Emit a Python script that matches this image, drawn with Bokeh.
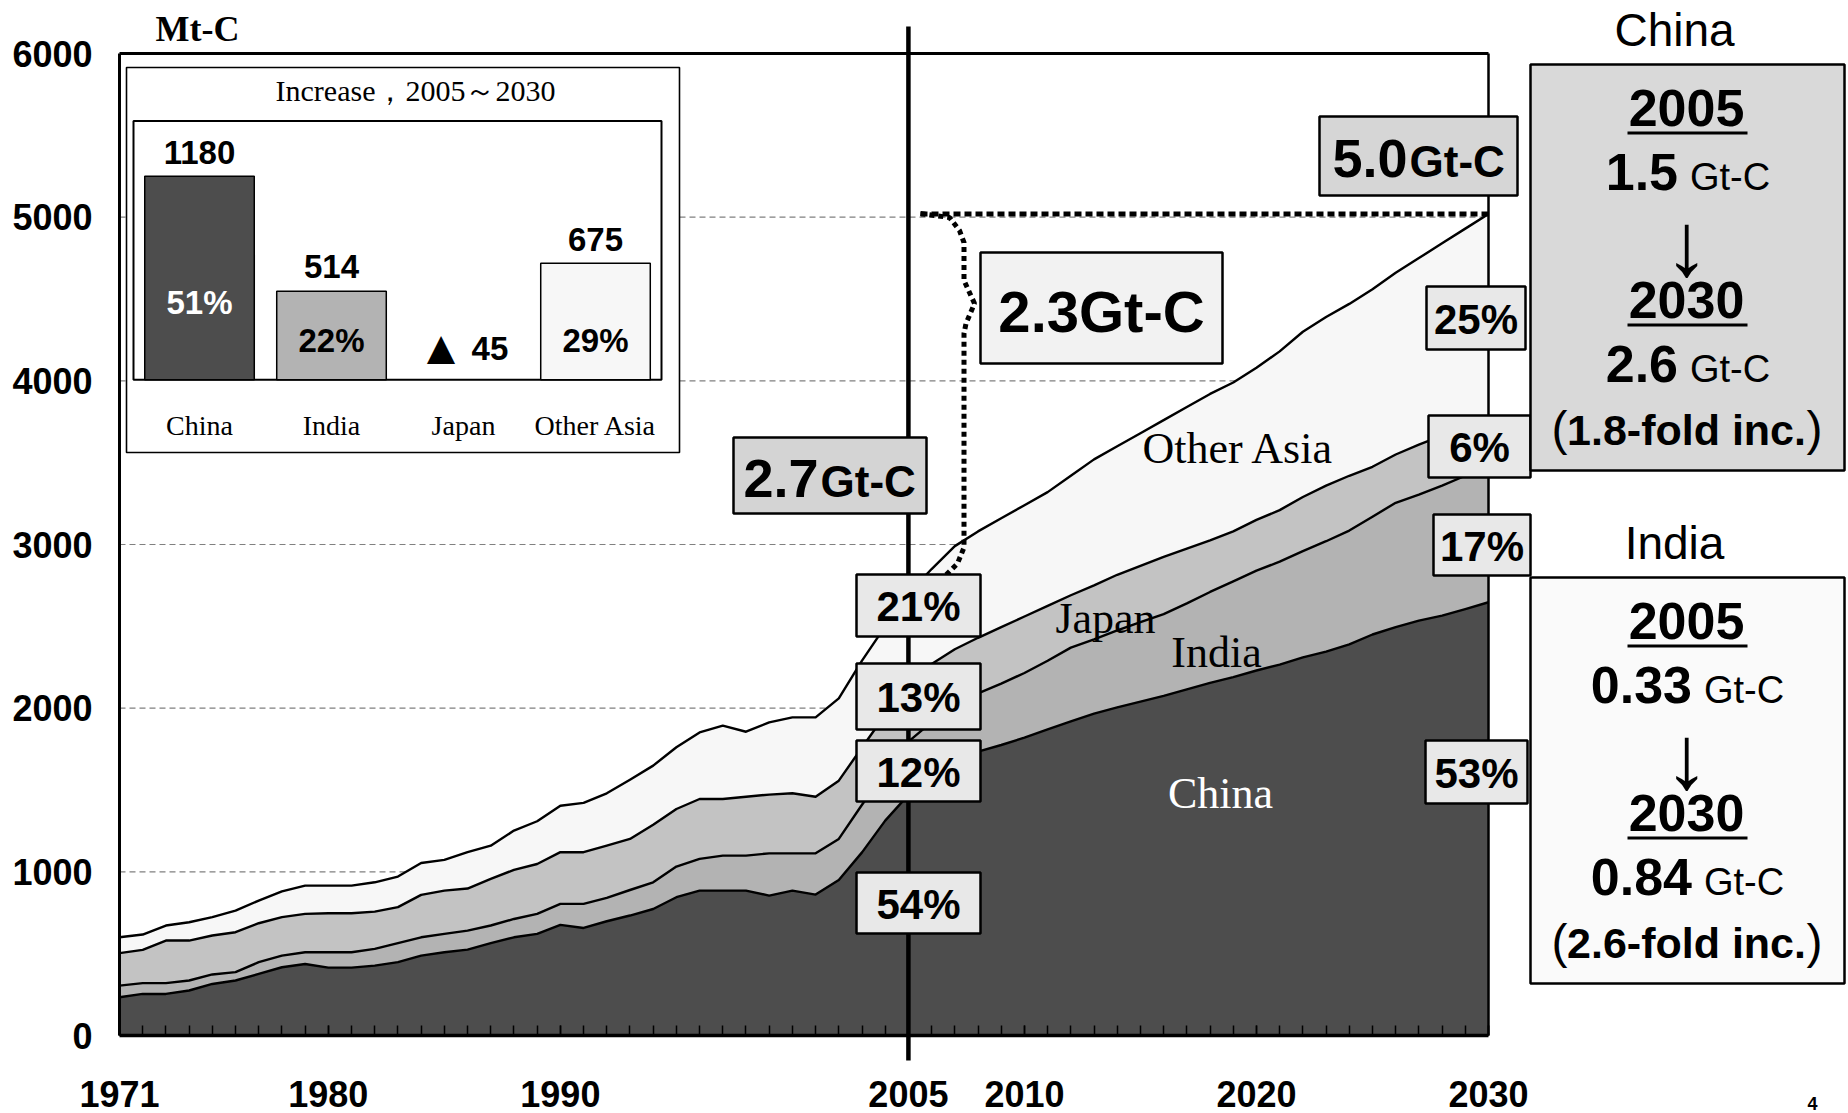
from bokeh.plotting import figure
from bokeh.models import Range1d, LinearAxis, FixedTicker, ColumnDataSource
from bokeh.core.properties import value
from bokeh.embed import file_html
from bokeh.resources import INLINE

# ---------------- data (Mt-C) ----------------
years = list(range(1971, 2031))
china = [234, 254, 254, 275, 315, 336, 376, 417, 437, 415,
         415, 427, 448, 488, 509, 525, 564, 600, 621, 676,
         657, 698, 733, 773, 845, 885, 885, 885, 855, 885,
         861, 950, 1119, 1313, 1470, 1590, 1680, 1735, 1775, 1820,
         1870, 1920, 1967, 2005, 2040, 2075, 2115, 2155, 2190, 2230,
         2266, 2310, 2345, 2390, 2450, 2495, 2535, 2565, 2605, 2647]
india = [71, 66, 66, 61, 58, 51, 72, 71, 72, 94,
         94, 102, 116, 112, 112, 116, 108, 112, 122, 128,
         147, 143, 156, 163, 187, 194, 214, 214, 258, 228,
         252, 251, 291, 297, 326, 325, 320, 355, 375, 395,
         420, 450, 453, 470, 485, 500, 525, 555, 585, 610,
         629, 650, 675, 695, 720, 760, 770, 795, 815, 833]
japan = [198, 203, 260, 244, 238, 244, 238, 235, 234, 238,
         238, 228, 220, 259, 264, 257, 285, 300, 305, 316,
         316, 319, 312, 352, 352, 366, 346, 360, 359, 367,
         346, 356, 350, 350, 345, 355, 360, 340, 345, 345,
         335, 320, 330, 340, 345, 350, 335, 315, 305, 310,
         315, 330, 340, 335, 305, 295, 305, 305, 300, 300]
other_asia = [97, 94, 92, 112, 112, 132, 138, 158, 173, 169,
              169, 179, 187, 195, 188, 222, 203, 240, 261, 284,
              301, 320, 362, 361, 377, 407, 448, 397, 441, 464,
              485, 503, 530, 540, 559, 580, 630, 650, 665, 680,
              695, 730, 770, 785, 810, 835, 865, 895, 910, 930,
              970, 1010, 1030, 1050, 1085, 1110, 1140, 1175, 1210, 1240]

layer_names = ["china", "india", "japan", "other_asia"]
layer_colors = ["#4d4d4d", "#b3b3b3", "#c3c3c3", "#f7f7f7"]
area_labels = ["China", "India", "Japan", "Other Asia"]

y_ticks = [0, 1000, 2000, 3000, 4000, 5000, 6000]
x_ticks = [1971, 1980, 1990, 2005, 2010, 2020, 2030]
grid_levels = [1000, 2000, 3000, 4000, 5000]
base_year = 2005

share_2005 = ["54%", "12%", "13%", "21%"]   # China, India, Japan, Other Asia
share_2030 = ["53%", "17%", "6%", "25%"]
total_2005 = "2.7"
total_2030 = "5.0"
total_increase = "2.3"

inc_title = "Increase，2005～2030"
inc_categories = ["China", "India", "Japan", "Other Asia"]
inc_values = [1180, 514, -45, 675]
inc_shares = ["51%", "22%", "", "29%"]
inc_colors = ["#4d4d4d", "#b3b3b3", "#c3c3c3", "#f7f7f7"]

summary_regions = ["China", "India"]
summary_2005 = ["1.5", "0.33"]
summary_2030 = ["2.6", "0.84"]
summary_fold = ["1.8-fold inc.", "2.6-fold inc."]
page_number = "4"

# ---------------- canvas geometry ----------------
# the plot frame covers the whole canvas; the axes are pinned at 1971 / 0
W, H = 1848, 1113
AX_L, AX_B = 119, 1035               # pixel position of the y / x axis lines
PPY = (1488 - 119) / 59.0            # px per year
PPV = (1035 - 53) / 6000.0           # px per Mt-C
XMIN = 1971 - AX_L / PPY
XMAX = 1971 + (W - AX_L) / PPY
YMIN = -(H - AX_B) / PPV
YMAX = AX_B / PPV


def X(px):
    return 1971 + (px - AX_L) / PPY


def Y(py):
    return (AX_B - py) / PPV


SANS = "Liberation Sans"
SERIF = "Liberation Serif"

p = figure(frame_width=W, frame_height=H,
           x_range=Range1d(XMIN, XMAX), y_range=Range1d(YMIN, YMAX),
           x_axis_type=None, y_axis_type=None,
           min_border_left=0, min_border_right=0, min_border_top=0, min_border_bottom=0,
           output_backend="svg", toolbar_location=None)
p.outline_line_color = None
p.background_fill_color = "white"
p.border_fill_color = "white"

# axes
yaxis = LinearAxis(ticker=FixedTicker(ticks=y_ticks), bounds=(y_ticks[0], y_ticks[-1]),
                   fixed_location=years[0],
                   axis_line_width=3, axis_line_color="black",
                   major_tick_in=0, major_tick_out=0, minor_tick_in=0, minor_tick_out=0,
                   major_label_standoff=27,
                   major_label_text_font=SANS, major_label_text_font_size="36px",
                   major_label_text_font_style="bold", major_label_text_color="black")
p.add_layout(yaxis, "left")
xaxis = LinearAxis(ticker=FixedTicker(ticks=x_ticks, minor_ticks=years),
                   bounds=(years[0], years[-1]), fixed_location=0,
                   axis_line_width=3.5, axis_line_color="black",
                   major_tick_in=10, major_tick_out=0, minor_tick_in=10, minor_tick_out=0,
                   major_tick_line_width=1.5, minor_tick_line_width=1.5,
                   major_tick_line_color="black", minor_tick_line_color="black",
                   major_label_standoff=45,
                   major_label_text_font=SANS, major_label_text_font_size="36px",
                   major_label_text_font_style="bold", major_label_text_color="black")
p.add_layout(xaxis, "below")

# dashed grid lines (only inside the data frame 1971-2030)
p.segment(x0=[years[0]] * len(grid_levels), x1=[years[-1]] * len(grid_levels),
          y0=grid_levels, y1=grid_levels,
          line_color="#808080", line_width=1.2, line_dash="6 4")

# stacked areas
src = ColumnDataSource(dict(year=years, china=china, india=india, japan=japan,
                            other_asia=other_asia))
p.varea_stack(stackers=layer_names, x="year", color=layer_colors, source=src)
p.vline_stack(stackers=layer_names, x="year", color="black", line_width=2.4,
              line_join="round", source=src)

# frame top / right
p.line([years[0], years[-1]], [y_ticks[-1], y_ticks[-1]], line_color="black", line_width=3)
p.line([years[-1], years[-1]], [0, y_ticks[-1]], line_color="black", line_width=2.5)

# 2005 divider (runs a little past the frame at both ends)
p.line([base_year, base_year], [Y(1060), Y(26)], line_color="black", line_width=4.5)


def txt(px, py, s, size, font=SANS, style="bold", color="black", align="center"):
    """text whose capital letters are vertically centred on py"""
    p.text(x=[X(px)], y=[Y(py)], text=[s], text_font=value(font),
           text_font_size=value(size), text_font_style=style, text_color=color,
           text_align=align, text_baseline="middle")


def box(l, t, r, b, fill, lw=2.5):
    p.quad(left=[X(l)], right=[X(r)], top=[Y(t)], bottom=[Y(b)],
           fill_color=fill, line_color="black", line_width=lw)


# area labels
area_pos = [(1220, 793, "white"), (1216, 652, "black"), (1105, 618, "black"),
            (1238, 448, "black")]
for name, (ax, ay, col) in zip(area_labels, area_pos):
    txt(ax, ay, name, "44px", font=SERIF, style="normal", color=col)

# unit label
txt(197, 28, "Mt-C", "36px", font=SERIF, style="bold")

# dotted increase bracket
top_total = china[-1] + india[-1] + japan[-1] + other_asia[-1]
p.line([X(920), years[-1]], [top_total, top_total], line_color="black",
       line_width=5, line_dash="7 4")
brace_px = [(920, 213), (949, 217), (959, 230), (963.5, 242), (963.5, 280),
            (974, 303), (965.5, 323), (963.5, 333), (963.5, 547), (957, 563),
            (945, 575), (932, 580)]
p.line([X(a) for a, _ in brace_px], [Y(b) for _, b in brace_px], line_color="black",
       line_width=5, line_dash="5 4")

# share boxes at 2005 / 2030 (China, India, Japan, Other Asia)
boxes_2005 = [(856, 872, 980, 933), (856, 740, 980, 801), (856, 663, 980, 729),
              (856, 574, 980, 636)]
for s, (l, t, r, b) in zip(share_2005, boxes_2005):
    box(l, t, r, b, "#e8e8e8")
    txt((l + r) / 2, (t + b) / 2 + 1, s, "42px")
boxes_2030 = [(1425, 740, 1527, 803), (1433, 514, 1530, 575), (1428, 415, 1530, 477),
              (1426, 286, 1525, 349)]
for s, (l, t, r, b) in zip(share_2030, boxes_2030):
    box(l, t, r, b, "#e8e8e8")
    txt((l + r) / 2, (t + b) / 2 + 1, s, "42px")

# total boxes
box(1319, 116, 1517, 195, "#d6d6d6")
txt(1407, 158, total_2030, "54px", align="right")
txt(1409, 161, "Gt-C", "44px", align="left")
box(733, 437, 926, 513, "#d4d4d4")
txt(818, 478, total_2005, "54px", align="right")
txt(820, 481, "Gt-C", "44px", align="left")
box(980, 252, 1222, 363, "#f2f2f2")
txt(1101, 311, total_increase + "Gt-C", "58px")

# summary boxes on the right
summary_tops = [64, 577]
summary_fill = ["#d9d9d9", "#fafafa"]
summary_split = [1677.5, 1691.5]
for i, region in enumerate(summary_regions):
    T = summary_tops[i]
    cx = 1686
    txt(1674, T - 35, region, "46px", style="normal")
    box(1530, T, 1844, T + 406, summary_fill[i])
    txt(cx, T + 43.5, str(x_ticks[3]), "52px")
    p.line([X(1627), X(1747)], [Y(T + 68.5)] * 2, line_color="black", line_width=3)
    txt(summary_split[i], T + 107.4, summary_2005[i], "52px", align="right")
    txt(summary_split[i] + 12, T + 112.4, "Gt-C", "38px", style="normal", align="left")
    txt(cx, T + 179, "↓", "90px", style="normal")
    txt(cx, T + 235.5, str(x_ticks[-1]), "52px")
    p.line([X(1627), X(1747)], [Y(T + 260.5)] * 2, line_color="black", line_width=3)
    txt(summary_split[i], T + 299.4, summary_2030[i], "52px", align="right")
    txt(summary_split[i] + 12, T + 304.4, "Gt-C", "38px", style="normal", align="left")
    txt(cx, T + 365.6, summary_fold[i], "43px")
    txt(1559, T + 364.2, "(", "48px", style="normal")
    txt(1814, T + 364.2, ")", "48px", style="normal")

# ---------------- inset: increase 2005-2030 ----------------
IX0, IX1 = (0 - 133) / 132.0, (W - 133) / 132.0
IY0, IY1 = (379.3 - H) / 0.1725, 379.3 / 0.1725
p.extra_x_ranges = {"inset": Range1d(IX0, IX1)}
p.extra_y_ranges = {"inset": Range1d(IY0, IY1)}
box(126, 67, 679, 452, "white", lw=1.6)
txt(415, 90, inc_title, "30px", font=SERIF, style="normal")
p.quad(left=[0], right=[len(inc_categories)], bottom=[0], top=[1500],
       fill_color="white", line_color="black", line_width=2,
       x_range_name="inset", y_range_name="inset")
xs = [i + 0.5 for i in range(len(inc_categories))]
pos = [i for i, v in enumerate(inc_values) if v > 0]
neg = [i for i, v in enumerate(inc_values) if v <= 0]
p.vbar(x=[xs[i] for i in pos], top=[inc_values[i] for i in pos], bottom=0, width=0.83,
       fill_color=[inc_colors[i] for i in pos], line_color="black", line_width=1.5,
       x_range_name="inset", y_range_name="inset")
p.text(x=[xs[i] for i in pos], y=[inc_values[i] + 140 for i in pos],
       text=[str(inc_values[i]) for i in pos], text_font=value(SANS),
       text_font_size=value("33px"), text_font_style="bold", text_align="center",
       text_baseline="middle", x_range_name="inset", y_range_name="inset")
share_y = [449, 225, 0, 225]
share_col = ["white", "black", "black", "black"]
p.text(x=[xs[i] for i in pos], y=[share_y[i] for i in pos],
       text=[inc_shares[i] for i in pos], text_font=value(SANS),
       text_font_size=value("33px"), text_font_style="bold", text_align="center",
       text_baseline="middle", text_color=[share_col[i] for i in pos],
       x_range_name="inset", y_range_name="inset")
p.text(x=[xs[i] - 0.17 for i in neg], y=[190 for i in neg], text=["▲" for i in neg],
       text_font=value(SANS), text_font_size=value("48px"), text_align="center",
       text_baseline="middle", x_range_name="inset", y_range_name="inset")
p.text(x=[xs[i] + 0.2 for i in neg], y=[184 for i in neg],
       text=[str(abs(inc_values[i])) for i in neg], text_font=value(SANS),
       text_font_size=value("33px"), text_font_style="bold", text_align="center",
       text_baseline="middle", x_range_name="inset", y_range_name="inset")
p.text(x=xs, y=[-265] * len(xs), text=inc_categories, text_font=value(SERIF),
       text_font_size=value("28px"), text_align="center", text_baseline="middle",
       x_range_name="inset", y_range_name="inset")

# page number (bottom right corner)
txt(1812, 1103, page_number, "18px")

open("out.html", "w").write(file_html(p, INLINE))
